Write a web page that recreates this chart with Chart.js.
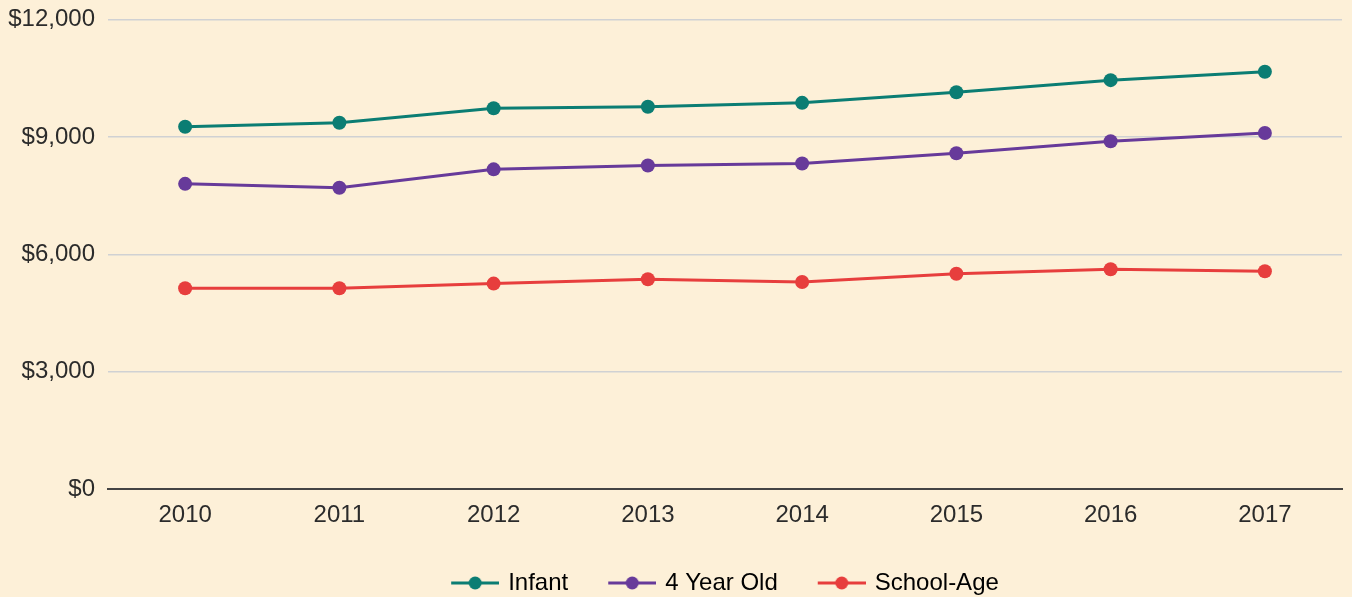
<!DOCTYPE html>
<html lang="en">
<head>
    <meta charset="UTF-8">
    <title>Child Care Cost by Age</title>
    <script src="https://cdn.jsdelivr.net/npm/chart.js"></script>
    <style>
        html, body {
            margin: 0;
            padding: 0;
            background-color: #fdf0d8;
        }
        #wrap {
            width: 1352px;
            height: 597px;
        }
    </style>
</head>
<body>
    <div id="wrap"><canvas id="costChart" width="1352" height="597"></canvas></div>

    <script>
        // values
        const years = ['2010', '2011', '2012', '2013', '2014', '2015', '2016', '2017'];
        const infant = [9260, 9360, 9730, 9770, 9870, 10140, 10450, 10665];
        const fourYearOld = [7800, 7700, 8170, 8270, 8320, 8580, 8890, 9100];
        const schoolAge = [5130, 5130, 5250, 5360, 5290, 5500, 5615, 5565];
        const yTicks = [0, 3000, 6000, 9000, 12000];

        const TEAL = '#0b7d73';
        const PURPLE = '#673a9a';
        const RED = '#e73e3d';
        const FONT = '"Liberation Sans", Arial, sans-serif';

        // legend icon: short line with a dot in the middle
        function legendIcon(color) {
            const c = document.createElement('canvas');
            c.width = 81;
            c.height = 16;
            const g = c.getContext('2d');
            g.strokeStyle = color;
            g.lineWidth = 3;
            g.beginPath();
            g.moveTo(33, 8);
            g.lineTo(81, 8);
            g.stroke();
            g.fillStyle = color;
            g.beginPath();
            g.arc(57, 8, 6.5, 0, Math.PI * 2);
            g.fill();
            return c;
        }

        // put the legend under the middle of the plot area
        const legendShift = {
            id: 'legendShift',
            afterLayout(chart) {
                const lg = chart.legend;
                const dx = (chart.chartArea.left + chart.chartArea.right) / 2 - (lg.left + lg.right) / 2 - 15;
                lg.left += dx;
                lg.right += dx;
                lg.top += 8;
                lg.bottom += 8;
            }
        };

        function series(label, data, color) {
            return {
                label: label,
                data: data,
                borderColor: color,
                backgroundColor: color,
                borderWidth: 3,
                pointStyle: 'circle',
                pointRadius: 7,
                pointHoverRadius: 8,
                pointBackgroundColor: color,
                pointBorderWidth: 0,
                tension: 0
            };
        }

        Chart.defaults.font.family = FONT;
        Chart.defaults.font.size = 24;
        Chart.defaults.color = '#2b2b2b';

        new Chart(document.getElementById('costChart'), {
            type: 'line',
            data: {
                labels: years,
                datasets: [
                    series('Infant', infant, TEAL),
                    series('4 Year Old', fourYearOld, PURPLE),
                    series('School-Age', schoolAge, RED)
                ]
            },
            options: {
                responsive: false,
                animation: false,
                layout: {
                    padding: { top: 19.5, right: 10, left: 0, bottom: 0 }
                },
                plugins: {
                    legend: {
                        position: 'bottom',
                        labels: {
                            usePointStyle: true,
                            pointStyleWidth: 75,
                            padding: 10,
                            color: '#2b2b2b',
                            font: { size: 24 },
                            generateLabels(chart) {
                                return chart.data.datasets.map((ds, i) => ({
                                    text: ds.label,
                                    fillStyle: ds.borderColor,
                                    strokeStyle: ds.borderColor,
                                    lineWidth: 0,
                                    pointStyle: legendIcon(ds.borderColor),
                                    hidden: false,
                                    datasetIndex: i
                                }));
                            }
                        }
                    },
                    tooltip: { enabled: true }
                },
                scales: {
                    x: {
                        offset: true,
                        grid: { display: false, drawTicks: false },
                        border: { display: true, color: '#444444', width: 2 },
                        ticks: { padding: 12 },
                        afterFit(scale) { scale.height = 64; }
                    },
                    y: {
                        min: 0,
                        max: 12000,
                        afterBuildTicks(scale) {
                            scale.ticks = yTicks.map(v => ({ value: v }));
                        },
                        grid: { color: '#d0d1d3', lineWidth: 1.5, drawTicks: false },
                        border: { display: false },
                        ticks: {
                            padding: 13,
                            callback: v => '$' + Number(v).toLocaleString('en-US')
                        },
                        afterFit(scale) {
                            scale.width = 108;
                            scale.paddingTop = 0;
                            scale.paddingBottom = 0;
                        }
                    }
                }
            },
            plugins: [legendShift]
        });
    </script>
</body>
</html>
